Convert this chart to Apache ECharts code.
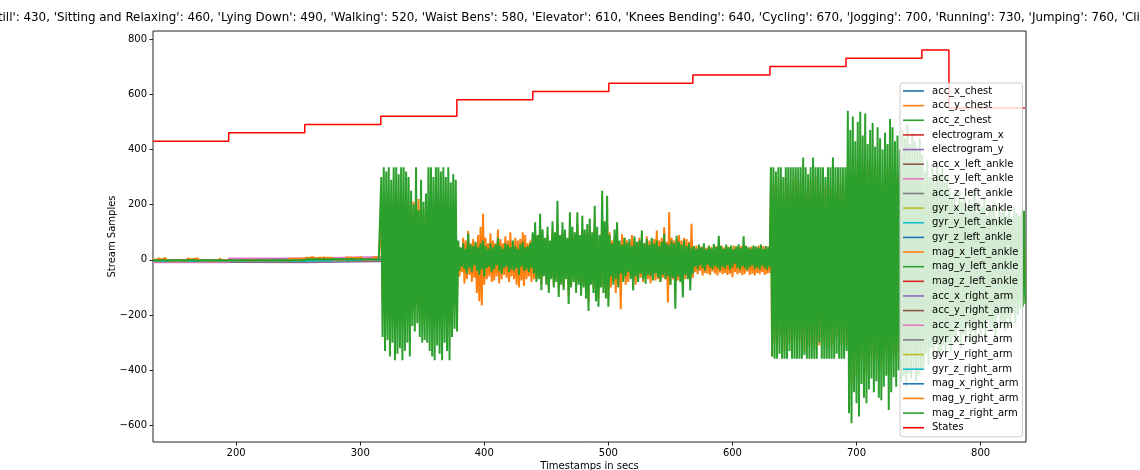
<!DOCTYPE html>
<html><head><meta charset="utf-8">
<script src="https://cdn.jsdelivr.net/npm/echarts@6/dist/echarts.min.js"></script>
<style>html,body{margin:0;padding:0;background:#fff}#c{width:1140px;height:470px}</style>
</head><body><div id="c"></div><script>
// ---------- data ----------
const titleText = "{'Standing Still': 430, 'Sitting and Relaxing': 460, 'Lying Down': 490, 'Walking': 520, 'Waist Bens': 580, 'Elevator': 610, 'Knees Bending': 640, 'Cycling': 670, 'Jogging': 700, 'Running': 730, 'Jumping': 760, 'Climbing Stairs': 550}";
const seriesNames = ['acc_x_chest','acc_y_chest','acc_z_chest','electrogram_x','electrogram_y','acc_x_left_ankle','acc_y_left_ankle','acc_z_left_ankle','gyr_x_left_ankle','gyr_y_left_ankle','gyr_z_left_ankle','mag_x_left_ankle','mag_y_left_ankle','mag_z_left_ankle','acc_x_right_arm','acc_y_right_arm','acc_z_right_arm','gyr_x_right_arm','gyr_y_right_arm','gyr_z_right_arm','mag_x_right_arm','mag_y_right_arm','mag_z_right_arm','States'];
const xTicks = [200,300,400,500,600,700,800];
const yTicks = [-600,-400,-200,0,200,400,600,800];

// state segments (start time, level)
const stateStarts = [133, 194, 255.3, 316.6, 377.9, 439.1, 500.4, 568.1, 630.2, 691.5, 752.7, 774.5];
const stateEnd = 835.7;
const stateValues = [430, 460, 490, 520, 580, 610, 640, 670, 700, 730, 760, 550];

// minor channels: one level per state segment
const accXChest     = [-4,-4,-1,-6,-9,-3,-7,-2,-10,-5,-8,-3];
const accYChest     = [-3,-4,0,2,-1,0,1,-1,0,1,-1,0];
const accZChest     = [-4,-5,0,1,2,-1,0,1,-2,1,0,1];
const electrogramX  = [-5,-9,-1,-2,0,1,-1,0,1,-1,0,-2];
const electrogramY  = [-2,-3,7,-1,1,-2,0,-1,1,0,-1,1];
const accXLeftAnkle = [-6,-5,-2,0,-1,1,0,-1,0,1,-1,0];
const accYLeftAnkle = [-8,4,8,1,0,-1,1,0,-1,0,1,-1];
const accZLeftAnkle = [-7,-6,-1,-2,1,0,-1,1,0,-1,0,1];
const gyrXLeftAnkle = [-3,-3,0,0,-1,0,1,0,-1,0,1,0];
const gyrYLeftAnkle = [-4,-4,1,1,0,-1,0,1,0,-1,0,1];
const gyrZLeftAnkle = [-4,-5,0,-1,0,1,0,-1,1,0,-1,0];
const magXLeftAnkle = [-3,-4,1,2,3,-2,1,2,-3,2,1,-2];
const magYLeftAnkle = [-5,-5,-1,-3,2,1,-2,1,3,-2,2,1];
const magZLeftAnkle = [-6,-8,-2,3,-2,2,1,-2,4,3,-1,2];
const accXRightArm  = [-9,-10,-6,-4,-3,-2,-5,-3,-6,-4,-5,-3];
const accYRightArm  = [-7,-7,-3,-2,-1,-3,-2,-1,-2,-3,-1,-2];
const accZRightArm  = [-10,6,11,3,2,4,3,2,5,3,4,2];
const gyrXRightArm  = [-6,-6,-2,0,1,0,-1,0,1,0,-1,0];
const gyrYRightArm  = [-5,-4,-1,1,0,1,0,-1,0,1,0,-1];
const gyrZRightArm  = [-5,-5,0,0,1,0,1,0,-1,0,1,0];
const magXRightArm  = [-1,2,1,5,4,3,4,3,5,4,3,4];

// dense channels: per 2-second bin, high sample then low sample
const binStart = 133, binStep = 2;
const magYRightArmHigh = [
 6,3,5,2,3,7,4,3,2,5,3,4,2,3,5,3,2,4,6,3,2,4,3,5,2,3,4,6,3,2,4,
 4,3,5,4,3,4,5,3,4,4,3,5,4,3,4,5,3,4,4,3,5,4,3,4,5,3,4,4,3,5,4,
 8,7,9,8,6,8,7,9,8,7,8,6,9,8,7,8,9,7,8,6,8,7,9,8,7,8,6,9,8,7,
 150,200,180,210,160,190,220,170,200,180,150,200,222,210,190,220,200,180,160,150,200,190,170,200,180,210,160,190,170,150,140,
 60,40,80,70,105,60,75,55,90,120,167,80,60,95,70,60,110,75,60,85,70,100,65,80,70,75,100,90,60,70,80,
 100,60,120,80,70,90,60,110,80,130,70,100,90,60,120,100,80,130,70,110,90,100,120,80,140,90,70,150,100,130,
 100,70,80,110,60,93,80,70,65,90,75,60,80,70,60,85,70,65,75,106,70,80,118,65,172,80,70,75,90,70,80,75,65,131,
 45,52,40,48,50,44,52,46,40,50,48,52,45,50,47,40,52,48,45,50,46,52,44,48,50,45,52,47,50,44,48,
 250,280,300,260,290,240,300,270,250,290,310,260,280,300,250,270,290,260,300,280,250,290,270,300,260,280,250,290,270,300,260,
 350,300,380,320,360,300,340,310,360,290,330,300,350,320,280,310,340,300,320,290,310,280,300,320,290,300,280,310,290,300,
 250,200,240,210,230,190,220,200,210,180,200,
 150,120,140,110,150,120,130,100,140,110,130,100,120,110,130,90,120,100,110,90,110,100,120,90,100,80,110,90,80,90,100
];
const magYRightArmLow = [
 -2,-3,-1,-2,-3,-2,-1,-3,-2,-2,-3,-1,-2,-3,-2,-1,-2,-3,-2,-2,-1,-3,-2,-2,-3,-1,-2,-3,-2,-1,-2,
 -2,-1,-2,-3,-2,-1,-2,-2,-3,-1,-2,-2,-1,-3,-2,-2,-1,-2,-3,-2,-1,-2,-2,-3,-1,-2,-2,-1,-3,-2,-2,
 1,0,2,1,0,1,2,0,1,1,0,2,1,0,1,1,2,0,1,0,1,2,1,0,1,1,0,2,1,0,
 -150,-200,-180,-220,-170,-240,-200,-190,-230,-210,-180,-200,-150,-170,-160,-190,-200,-180,-200,-220,-240,-230,-210,-200,-220,-190,-200,-230,-180,-150,-140,
 -60,-45,-86,-70,-55,-80,-65,-120,-150,-165,-90,-70,-60,-80,-75,-60,-86,-70,-55,-65,-80,-60,-70,-90,-100,-75,-95,-70,-60,-80,-70,
 -70,-60,-90,-50,-80,-100,-60,-90,-70,-110,-80,-100,-60,-130,-90,-70,-100,-80,-110,-90,-120,-150,-80,-100,-130,-140,-90,-100,-120,-140,
 -100,-80,-120,-90,-179,-70,-90,-80,-60,-75,-90,-70,-65,-80,-60,-70,-85,-60,-75,-70,-80,-65,-70,-155,-90,-70,-80,-75,-65,-90,-70,-60,-75,-65,
 -45,-52,-40,-57,-48,-50,-55,-42,-50,-57,-46,-52,-48,-55,-50,-63,-45,-52,-48,-56,-50,-42,-55,-50,-57,-48,-52,-45,-55,-50,-48,
 -350,-300,-320,-280,-310,-330,-290,-300,-320,-280,-310,-290,-300,-330,-280,-310,-300,-320,-290,-310,-280,-300,-320,-290,-310,-300,-280,-320,-300,-290,-310,
 -400,-450,-380,-420,-400,-360,-390,-410,-370,-350,-380,-360,-400,-390,-350,-330,-410,-370,-340,-360,-330,-350,-340,-360,-320,-340,-320,-350,-330,-320,
 -280,-240,-260,-230,-250,-220,-240,-230,-220,-240,-210,
 -200,-170,-190,-150,-180,-160,-170,-140,-180,-150,-170,-130,-160,-140,-170,-120,-150,-130,-160,-110,-140,-120,-150,-110,-130,-100,-120,-110,-100,-90,-100
];
const magZRightArmHigh = [
 -2,-1,-2,-3,-1,-2,-2,-1,-3,-2,-1,-2,-2,-3,-1,-2,-1,-2,-3,-2,-1,-2,-2,-1,-3,-2,-2,-1,-2,-3,-2,
 -1,-2,-1,-3,-2,-1,-2,-2,-1,-3,-2,-1,-2,-1,-3,-2,-2,-1,-2,-3,-1,-2,-2,-1,-3,-2,-1,-2,-2,-1,-2,
 3,2,1,3,2,2,1,3,2,1,2,3,2,1,3,2,2,1,3,2,1,2,3,2,1,3,2,2,1,2,
 300,335,320,335,290,335,335,310,335,335,320,300,250,200,335,180,290,210,240,335,335,300,335,335,320,335,300,335,280,310,290,
 70,45,60,40,95,55,50,65,45,60,70,50,40,60,45,55,80,50,40,60,55,45,70,50,40,55,65,45,50,60,100,
 136,90,167,110,80,120,70,140,100,214,90,136,110,80,172,120,100,172,90,160,110,130,150,100,196,120,90,250,140,232,
 90,60,110,136,70,55,80,60,75,50,85,65,70,106,60,75,55,80,60,70,50,65,95,60,55,70,60,87,65,55,70,50,60,45,
 50,40,55,45,60,38,50,42,58,45,87,50,40,55,45,52,38,48,56,42,85,50,45,40,52,48,44,55,40,50,45,
 335,335,320,335,335,300,335,335,335,335,335,335,335,371,335,310,335,371,335,335,335,335,300,335,335,371,335,335,335,335,335,
 540,470,519,430,500,536,450,530,420,470,496,410,480,440,400,460,420,510,480,430,450,400,470,440,490,420,460,430,400,440,
 380,320,360,300,340,290,350,310,330,280,300,
 260,220,240,190,250,210,230,180,220,200,240,170,210,190,230,160,200,180,210,150,190,170,200,160,180,150,190,170,160,180,178
];
const magZRightArmLow = [
 -6,-5,-6,-7,-5,-6,-5,-6,-7,-5,-6,-6,-5,-7,-6,-5,-6,-7,-5,-6,-6,-5,-7,-6,-5,-6,-7,-5,-6,-6,-5,
 -5,-6,-7,-5,-6,-6,-5,-7,-6,-5,-6,-7,-5,-6,-6,-5,-7,-6,-5,-6,-7,-5,-6,-6,-5,-7,-6,-5,-6,-7,-5,
 -2,-3,-2,-4,-3,-2,-3,-4,-2,-3,-3,-2,-4,-3,-2,-3,-4,-2,-3,-3,-2,-4,-3,-2,-3,-4,-2,-3,-3,-2,
 -280,-330,-290,-350,-300,-364,-340,-320,-364,-330,-300,-350,-240,-260,-230,-280,-300,-290,-300,-330,-350,-364,-310,-340,-364,-300,-330,-364,-280,-250,-260,
 -40,-25,-35,-50,-30,-45,-20,-40,-55,-35,-60,-30,-25,-45,-35,-20,-40,-50,-30,-25,-45,-35,-40,-30,-55,-25,-40,-35,-45,-30,-50,
 -80,-70,-110,-60,-90,-120,-70,-100,-80,-135,-90,-110,-70,-160,-100,-80,-120,-90,-130,-100,-140,-185,-90,-120,-150,-170,-100,-120,-140,-170,
 -60,-90,-70,-100,-50,-80,-60,-45,-70,-111,-60,-80,-50,-70,-87,-55,-60,-75,-50,-65,-80,-55,-70,-60,-90,-65,-177,-60,-80,-136,-55,-70,-111,-50,
 -25,-35,-20,-30,-39,-18,-28,-35,-22,-30,-38,-25,-32,-20,-35,-28,-14,-30,-36,-24,-30,-38,-26,-20,-34,-28,-35,-22,-30,-36,-25,
 -350,-358,-358,-340,-358,-358,-358,-330,-358,-358,-358,-358,-358,-345,-358,-358,-358,-358,-358,-300,-358,-358,-358,-358,-358,-358,-340,-358,-358,-358,-330,
 -556,-592,-480,-520,-568,-450,-500,-520,-470,-430,-480,-440,-500,-509,-460,-420,-544,-480,-425,-460,-400,-440,-420,-460,-410,-430,-400,-440,-420,-400,
 -400,-340,-380,-320,-360,-300,-350,-330,-310,-340,-300,
 -330,-280,-300,-250,-320,-270,-290,-240,-300,-260,-280,-230,-270,-250,-290,-220,-260,-240,-280,-200,-250,-230,-260,-210,-240,-190,-230,-200,-180,-170,-159
];

// ---------- build ----------
const palette = ['#1f77b4','#ff7f0e','#2ca02c','#d62728','#9467bd','#8c564b','#e377c2','#7f7f7f','#bcbd22','#17becf'];
function steps(levels){
  const out = stateStarts.map((t,i)=>[t, levels[i]]);
  out.push([stateEnd, levels[levels.length-1]]);
  return out;
}
function zigzag(hi, lo){
  const out = [];
  for (let i=0;i<hi.length;i++){
    const t = binStart + i*binStep;
    out.push([t, hi[i]]);
    out.push([t + binStep/2, lo[i]]);
  }
  return out;
}
const minor = [accXChest,accYChest,accZChest,electrogramX,electrogramY,accXLeftAnkle,accYLeftAnkle,accZLeftAnkle,gyrXLeftAnkle,gyrYLeftAnkle,gyrZLeftAnkle,magXLeftAnkle,magYLeftAnkle,magZLeftAnkle,accXRightArm,accYRightArm,accZRightArm,gyrXRightArm,gyrYRightArm,gyrZRightArm,magXRightArm];
const series = [];
seriesNames.forEach((name, k) => {
  let data, color, stepMode = false, width = 1.5;
  if (k < 21) { data = steps(minor[k]); color = palette[k%10]; stepMode = 'end'; }
  else if (k === 21) { data = zigzag(magYRightArmHigh, magYRightArmLow); color = palette[1]; width = 2; }
  else if (k === 22) { data = zigzag(magZRightArmHigh, magZRightArmLow); color = palette[2]; width = 2; }
  else { data = steps(stateValues); color = '#ff0000'; stepMode = 'end'; }
  series.push({
    name, type:'line', data, step: stepMode, showSymbol:false, symbol:'none',
    color, lineStyle:{ width, color, join:'bevel' }, animation:false, silent:true, z:2
  });
});

const FONT = 'DejaVu Sans';
const chart = echarts.init(document.getElementById('c'), null, {renderer:'canvas'});
chart.setOption({
  animation:false,
  backgroundColor:'#fff',
  graphic:[{
    type:'text', x:589.5, y:18, silent:true,
    style:{ text:titleText, font:'11.88px "DejaVu Sans"', fontSize:11.88, fontFamily:FONT, fill:'#000',
      textAlign:'center', textVerticalAlign:'middle', align:'center', verticalAlign:'middle' }
  }],
  grid:{ left:153, right:114, top:31, bottom:28, outerBoundsMode:'none', containLabel:false,
    show:true, borderColor:'#222', borderWidth:1, backgroundColor:'transparent' },
  xAxis:{
    type:'value', min:133, max:836.6,
    name:'Timestamps in secs', nameLocation:'middle', nameGap:19, nameMoveOverlap:false,
    nameTextStyle:{ fontFamily:FONT, fontSize:10, color:'#000' },
    axisLine:{ show:false, onZero:false },
    axisTick:{ show:true, inside:false, length:3.5, customValues:xTicks, lineStyle:{ color:'#222', width:1 } },
    axisLabel:{ customValues:xTicks, margin:6, fontFamily:FONT, fontSize:10, color:'#000' },
    splitLine:{ show:false }
  },
  yAxis:{
    type:'value', min:-660, max:829,
    name:'Stream Samples', nameLocation:'middle', nameGap:36, nameRotate:90, nameMoveOverlap:false,
    nameTextStyle:{ fontFamily:FONT, fontSize:10, color:'#000' },
    axisLine:{ show:false, onZero:false },
    axisTick:{ show:true, inside:false, length:3.5, customValues:yTicks, lineStyle:{ color:'#222', width:1 } },
    axisLabel:{ customValues:yTicks, margin:6, fontFamily:FONT, fontSize:10, color:'#000',
      formatter: v => String(v).replace('-', '\u2212') },
    splitLine:{ show:false }
  },
  legend:{
    show:true, orient:'vertical', left:900, top:83,
    data: seriesNames, icon:'rect', itemWidth:21, itemHeight:1.6, itemGap:2.64,
    selectedMode:false,
    padding:[2,4,3,3],
    backgroundColor:'rgba(255,255,255,0.8)', borderColor:'#cccccc', borderWidth:1, borderRadius:3,
    textStyle:{ fontFamily:FONT, fontSize:10, color:'#000', lineHeight:12, padding:[0,0,0,3] },
    z:10
  },
  series
});
</script></body></html>
